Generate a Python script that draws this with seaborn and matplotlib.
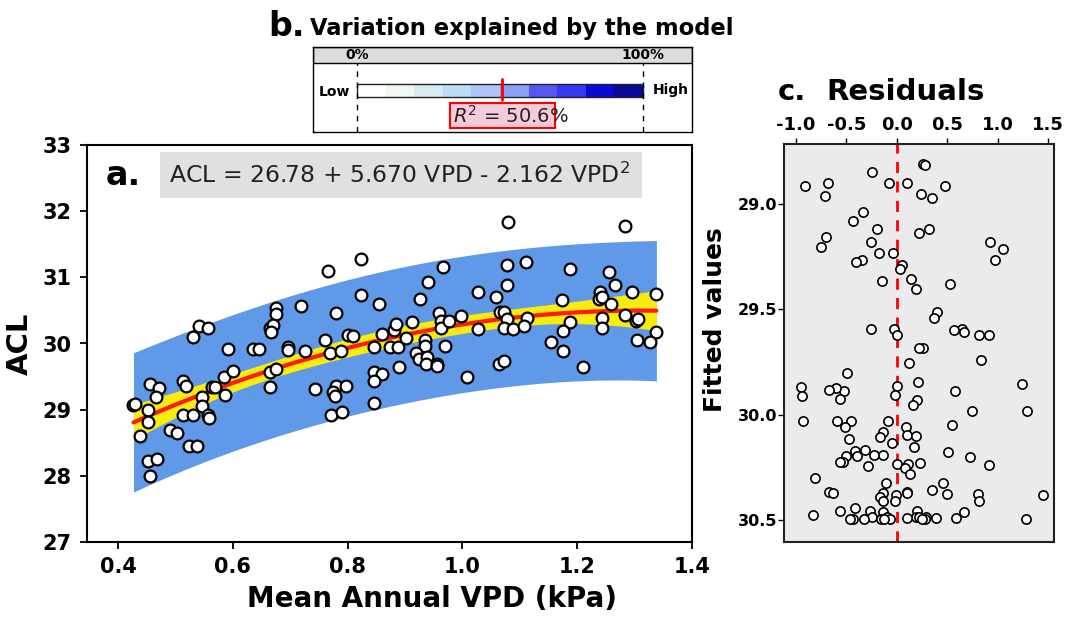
import numpy as np
import pandas as pd
import matplotlib
matplotlib.use("Agg")
import matplotlib.pyplot as plt
import seaborn as sns
from matplotlib.patches import Rectangle

# ---------------- data ----------------
vpd = [0.766, 0.824, 0.824, 0.855, 0.780, 0.719, 0.675, 0.675, 0.541, 0.556,
       0.665, 0.670, 0.667, 0.530, 0.761, 0.800, 0.810, 0.860, 0.880, 0.884,
       0.592, 0.636, 0.646, 0.697, 0.697, 0.725, 0.769, 0.788, 0.846, 0.873,
       0.887, 0.890, 0.846, 0.860, 0.846, 0.846, 0.455, 0.471, 0.466, 0.427,
       0.429, 0.452, 0.452, 0.438, 0.452, 0.468, 0.455, 0.490, 0.502, 0.524,
       0.538, 0.513, 0.518, 0.513, 0.530, 0.546, 0.546, 0.556, 0.559, 0.563,
       0.569, 0.584, 0.600, 0.587, 0.665, 0.675, 0.665, 0.744, 0.780, 0.797,
       0.774, 0.778, 0.771, 0.791,
       1.079, 1.284, 0.967, 1.077, 1.110, 1.187, 1.256, 0.940, 1.077, 1.265,
       0.926, 1.027, 1.058, 1.174, 1.240, 1.238, 1.243, 1.259, 1.295, 1.338,
       0.959, 0.962, 0.962, 0.976, 0.997, 0.912, 1.066, 1.072, 1.078, 1.072,
       1.089, 1.113, 1.108, 1.028, 1.187, 1.176, 1.243, 1.243, 1.284, 1.302,
       1.306, 1.337, 0.901, 0.934, 0.934, 0.920, 0.924, 0.938, 0.937, 0.956,
       0.956, 0.970, 1.008, 1.064, 1.072, 1.154, 1.176, 1.210, 1.304, 1.326]
acl = [31.10, 31.28, 30.73, 30.59, 30.46, 30.57, 30.54, 30.44, 30.27, 30.24,
       30.24, 30.28, 30.17, 30.10, 30.05, 30.13, 30.11, 30.15, 30.20, 30.29,
       29.91, 29.91, 29.91, 29.94, 29.90, 29.88, 29.86, 29.89, 29.94, 29.94,
       29.94, 29.64, 29.57, 29.54, 29.44, 29.10, 29.39, 29.32, 29.19, 29.07,
       29.09, 29.00, 28.82, 28.60, 28.22, 28.25, 28.00, 28.70, 28.65, 28.45,
       28.45, 29.44, 29.36, 28.92, 28.92, 29.19, 29.05, 28.92, 28.87, 29.34,
       29.34, 29.49, 29.59, 29.22, 29.57, 29.62, 29.34, 29.31, 29.36, 29.36,
       29.27, 29.21, 28.92, 28.97,
       31.83, 31.78, 31.16, 31.18, 31.23, 31.13, 31.08, 30.93, 30.88, 30.88,
       30.68, 30.78, 30.71, 30.66, 30.78, 30.68, 30.71, 30.59, 30.78, 30.75,
       30.46, 30.34, 30.24, 30.34, 30.41, 30.32, 30.47, 30.47, 30.37, 30.24,
       30.22, 30.39, 30.27, 30.22, 30.33, 30.19, 30.39, 30.24, 30.43, 30.34,
       30.37, 30.17, 30.09, 30.05, 29.96, 29.85, 29.76, 29.80, 29.69, 29.69,
       29.66, 29.96, 29.49, 29.69, 29.74, 30.03, 29.89, 29.64, 30.06, 30.03]

# model coefficients as printed on the chart
coef = [26.78, 5.670, -2.162]
r2_pct = 50.6

gauge_colors = ["#FFFFFF", "#F0F7F0", "#D6EBF0", "#BCDDF5", "#B0C4F8",
                "#8CA2F5", "#5558F0", "#3538F5", "#0A0AD8", "#0A0A9A"]

a_xticks = [0.4, 0.6, 0.8, 1.0, 1.2, 1.4]
a_yticks = [27, 28, 29, 30, 31, 32, 33]
c_xticks = [-1.0, -0.5, 0.0, 0.5, 1.0, 1.5]
c_yticks = [29.0, 29.5, 30.0, 30.5]

# ---------------- derived quantities ----------------
v = np.asarray(vpd)
y = np.asarray(acl)
X = np.column_stack([np.ones_like(v), v, v ** 2])
beta, *_ = np.linalg.lstsq(X, y, rcond=None)
n = len(v)
ols_res = y - X @ beta
s2 = ols_res @ ols_res / (n - 3)
cov = s2 * np.linalg.inv(X.T @ X)

xs = np.linspace(v.min(), v.max(), 200)
G = np.column_stack([np.ones_like(xs), xs, xs ** 2])
fit_line = G @ np.asarray(coef)
se = np.sqrt(np.einsum("ij,jk,ik->i", G, cov, G))
tq = 1.98
ci = tq * se
pi = tq * np.sqrt(s2 + se ** 2)

fitted = X @ np.asarray(coef)
resid = y - fitted
df = pd.DataFrame({"vpd": v, "acl": y, "fitted": fitted, "resid": resid})

# ---------------- figure ----------------
sns.set_style("ticks")
plt.rcParams["font.family"] = ["DejaVu Sans"]
for k in ("text.color", "axes.labelcolor", "xtick.color", "ytick.color",
          "axes.edgecolor"):
    plt.rcParams[k] = "black"
W, H = 1072, 619
fig = plt.figure(figsize=(W / 100, H / 100), dpi=100)


def frac(l, t, r, b):
    return [l / W, 1 - b / H, (r - l) / W, (b - t) / H]


# ===== panel a =====
axa = fig.add_axes(frac(87, 145, 692, 542))
axa.fill_between(xs, fit_line - pi, fit_line + pi, color="#6199E9", lw=0, zorder=1)
axa.fill_between(xs, fit_line - 1.1 * ci, fit_line + 1.1 * ci, color="#FAEB0F",
                 lw=0, zorder=2)
sns.lineplot(x=xs, y=fit_line, ax=axa, color="#FF1A1A", lw=3, sort=False,
             estimator=None, zorder=3)
sns.scatterplot(data=df, x="vpd", y="acl", ax=axa, s=72, color="white",
                edgecolor="black", linewidth=1.6, zorder=5)
axa.set_xlim(0.346, 1.40)
axa.set_ylim(27, 33)
axa.set_xticks(a_xticks, labels=[f"{t:.1f}" for t in a_xticks],
               fontsize=15, fontweight="bold")
axa.set_yticks(a_yticks, labels=[str(t) for t in a_yticks],
               fontsize=15, fontweight="bold")
axa.tick_params(length=5, width=1.3, direction="out", pad=6, colors="black")
for sp in axa.spines.values():
    sp.set_linewidth(1.5)
    sp.set_color("black")
    sp.set_visible(True)
axa.set_xlabel("Mean Annual VPD (kPa)", fontsize=20, fontweight="bold")
axa.set_ylabel("ACL", fontsize=21, fontweight="bold")
axa.xaxis.set_label_coords(0.57, -0.108)
axa.yaxis.set_label_coords(-0.088, 0.5)
axa.text(0.03, 0.924, "a.", transform=axa.transAxes, fontsize=24,
         fontweight="bold", va="center", ha="left")
axa.add_patch(Rectangle((0.121, 0.866), 0.796, 0.116, transform=axa.transAxes,
                        color="#E0E0E0", lw=0, zorder=6))
axa.text(0.136, 0.924,
         f"ACL = {coef[0]:.2f} + {coef[1]:.3f} VPD - {-coef[2]:.3f} VPD$^2$",
         transform=axa.transAxes, fontsize=16.9, va="center", ha="left",
         color="#222222", zorder=7)

# ===== panel b =====
axb = fig.add_axes(frac(313, 47, 692, 132))
axb.set_xlim(-0.154, 1.171)
axb.set_ylim(0, 1)
axb.set_xticks([])
axb.set_yticks([])
for sp in axb.spines.values():
    sp.set_linewidth(1.0)
    sp.set_color("black")
    sp.set_visible(True)
axb.add_patch(Rectangle((-0.154, 0.812), 1.325, 0.188, facecolor="#DCDCDC",
                        edgecolor="black", lw=1.0, zorder=1))
axb.barh([0.489] * 10, [0.1] * 10, left=np.arange(10) * 0.1, height=0.153,
         color=gauge_colors, lw=0, zorder=2)
axb.add_patch(Rectangle((0, 0.4125), 1.0, 0.153, facecolor="none",
                        edgecolor="#222222", lw=1.0, zorder=3))
for xv in (0.0, 1.0):
    axb.plot([xv, xv], [0.0, 0.812], color="black", lw=1.0,
             ls=(0, (4, 4)), zorder=3)
axb.plot([r2_pct / 100] * 2, [0.376, 0.624], color="red", lw=2, zorder=4)
axb.text(0.0, 0.906, "0%", fontsize=10, fontweight="bold", ha="center",
         va="center", zorder=5)
axb.text(1.0, 0.906, "100%", fontsize=10, fontweight="bold", ha="center",
         va="center", zorder=5)
axb.text(-0.025, 0.475, "Low", fontsize=10, fontweight="bold", ha="right",
         va="center")
axb.text(1.035, 0.49, "High", fontsize=10, fontweight="bold", ha="left",
         va="center")
axb.add_patch(Rectangle((0.325, 0.047), 0.367, 0.294, facecolor="#F5CBDA",
                        edgecolor="red", lw=1.5, zorder=4))
axb.text(0.336, 0.19, f"$R^2$ = {r2_pct:.1f}%", fontsize=14, ha="left",
         va="center", color="#222222", zorder=5)
fig.text(268 / W, 1 - 26 / H, "b.", fontsize=24, fontweight="bold",
         ha="left", va="center")
fig.text(310 / W, 1 - 28 / H, "Variation explained by the model", fontsize=16.3,
         fontweight="bold", ha="left", va="center")

# ===== panel c =====
axc = fig.add_axes(frac(784, 144, 1054, 542))
axc.set_facecolor("#EBEBED")
axc.axvline(0, color="red", lw=2, ls=(0, (4, 3)), zorder=2)
sns.scatterplot(data=df, x="resid", y="fitted", ax=axc, s=44, color="white",
                edgecolor="black", linewidth=1.2, zorder=5)
axc.set_xlim(-1.12, 1.56)
axc.set_ylim(30.605, 28.714)
axc.xaxis.tick_top()
axc.set_xticks(c_xticks, labels=[f"{t:.1f}" for t in c_xticks],
               fontsize=13, fontweight="bold")
axc.set_yticks(c_yticks, labels=[f"{t:.1f}" for t in c_yticks],
               fontsize=11.5, fontweight="bold")
axc.tick_params(axis="x", length=4, width=1, pad=3, colors="black")
axc.tick_params(axis="y", length=4, width=1, pad=1, colors="black")
for sp in axc.spines.values():
    sp.set_linewidth(1.5)
    sp.set_color("#222222")
    sp.set_visible(True)
axc.set_xlabel("")
axc.set_ylabel("Fitted values", fontsize=18, fontweight="bold")
axc.yaxis.set_label_coords(-0.211, 0.558)
fig.text(778 / W, 1 - 92 / H, "c.", fontsize=21, fontweight="bold",
         ha="left", va="center")
fig.text(826 / W, 1 - 92 / H, "Residuals", fontsize=21, fontweight="bold",
         ha="left", va="center")

fig.savefig("out.png", dpi=100)
